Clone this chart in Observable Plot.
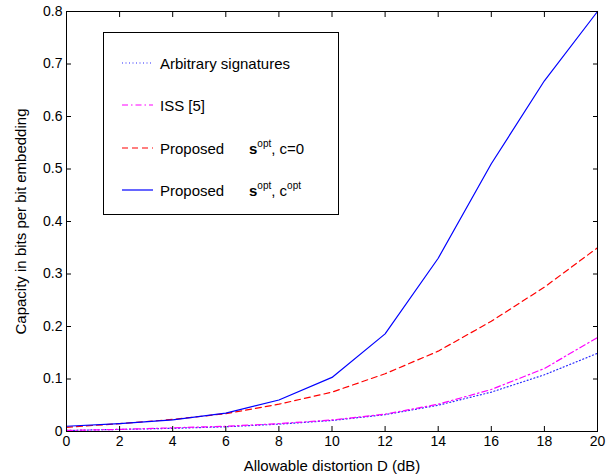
<!DOCTYPE html>
<html>
<head>
<meta charset="utf-8">
<script src="https://cdn.jsdelivr.net/npm/d3@7"></script>
<script src="https://cdn.jsdelivr.net/npm/@observablehq/plot@0.6"></script>
<style>
  body { margin: 0; background: #fff; font-family: "Liberation Sans", Arial, sans-serif; }
  #wrap { position: relative; width: 611px; height: 476px; }
  #legend { position: absolute; left: 103px; top: 32px; width: 236px; height: 183px;
    border: 1px solid #000; background: #fff; box-sizing: border-box; font-size: 15px; }
  .row { position: absolute; left: 18px; height: 18px; display: flex; align-items: center; }
  .row svg { width: 31px; height: 4px; margin-right: 7px; }
  .lab { display: inline-block; width: 89px; }
  sup { font-size: 10px; position: relative; top: -1px; }
</style>
</head>
<body>
<div id="wrap"><div id="chart"></div><div id="legend"></div></div>
<script>
const distortion = [0, 2, 4, 6, 8, 10, 12, 14, 16, 18, 20];
const arbitrary = [0.002, 0.004, 0.006, 0.009, 0.014, 0.021, 0.032, 0.050, 0.075, 0.108, 0.149];
const iss = [0.002, 0.004, 0.007, 0.010, 0.015, 0.022, 0.033, 0.052, 0.080, 0.120, 0.179];
const propC0 = [0.008, 0.015, 0.023, 0.034, 0.052, 0.075, 0.110, 0.153, 0.210, 0.275, 0.350];
const propCopt = [0.010, 0.015, 0.022, 0.035, 0.060, 0.103, 0.186, 0.330, 0.510, 0.668, 0.800];
const xTicks = [0, 2, 4, 6, 8, 10, 12, 14, 16, 18, 20];
const yTicks = [0, 0.1, 0.2, 0.3, 0.4, 0.5, 0.6, 0.7, 0.8];
const seriesNames = ["Arbitrary signatures", "ISS [5]", "Proposed s_opt c=0", "Proposed s_opt c_opt"];
const xLabel = "Allowable distortion D (dB)";
const yLabel = "Capacity in bits per bit embedding";

const styles = [
  {stroke: "#2b2bff", dash: "1,2.5", width: 1.2},
  {stroke: "#ff00ff", dash: "6,3,1.5,3", width: 1.2},
  {stroke: "#ff0000", dash: "6,4", width: 1.2},
  {stroke: "#0000ff", dash: null, width: 1.2}
];
const allSeries = [arbitrary, iss, propC0, propCopt];
const rows = [];
allSeries.forEach((vals, s) => vals.forEach((v, i) => rows.push({series: seriesNames[s], x: distortion[i], y: v})));

const lineMarks = seriesNames.map((name, s) => Plot.line(rows.filter(r => r.series === name), {
  x: "x", y: "y", stroke: styles[s].stroke, strokeWidth: styles[s].width,
  strokeDasharray: styles[s].dash
}));

const yFmt = d => d === 0 ? "0" : d.toFixed(1);

const chart = Plot.plot({
  width: 611, height: 476,
  marginLeft: 66, marginRight: 14, marginTop: 11, marginBottom: 45,
  style: {fontFamily: "Liberation Sans, Arial, sans-serif", fontSize: "14px", background: "#fff", color: "#000"},
  x: {domain: [0, 20]},
  y: {domain: [0, 0.8]},
  marks: [
    ...lineMarks,
    Plot.frame({stroke: "#000", strokeWidth: 1}),
    Plot.axisX({anchor: "bottom", ticks: xTicks, tickSize: -5, tickPadding: 10, label: null}),
    Plot.axisX({anchor: "bottom", ticks: [], label: xLabel, fontSize: 15,
      labelAnchor: "center", labelOffset: 39, labelArrow: "none"}),
    Plot.axisX({anchor: "top", ticks: xTicks, tickSize: -5, tickFormat: () => "", label: null}),
    Plot.axisY({anchor: "left", ticks: yTicks, tickSize: -5, tickPadding: 9, tickFormat: yFmt, label: null}),
    Plot.axisY({anchor: "left", ticks: [], label: yLabel, fontSize: 15,
      labelAnchor: "center", labelOffset: 51, labelArrow: "none"}),
    Plot.axisY({anchor: "right", ticks: yTicks, tickSize: -5, tickFormat: () => "", label: null})
  ]
});
document.getElementById("chart").appendChild(chart);

// Legend
const legendLabels = [
  "Arbitrary signatures",
  "ISS [5]",
  '<span class="lab">Proposed</span><b>s</b><sup>opt</sup>, c=0',
  '<span class="lab">Proposed</span><b>s</b><sup>opt</sup>, c<sup>opt</sup>'
];
const legendTops = [21, 63, 106, 148];
const legend = document.getElementById("legend");
legendLabels.forEach((lab, s) => {
  const row = document.createElement("div");
  row.className = "row";
  row.style.top = legendTops[s] + "px";
  const st = styles[s];
  row.innerHTML = `<svg viewBox="0 0 31 4"><line x1="0" y1="2" x2="31" y2="2" stroke="${st.stroke}" stroke-width="${st.width}" ${st.dash ? `stroke-dasharray="${st.dash}"` : ""}/></svg><span>${lab}</span>`;
  legend.appendChild(row);
});
</script>
</body>
</html>
